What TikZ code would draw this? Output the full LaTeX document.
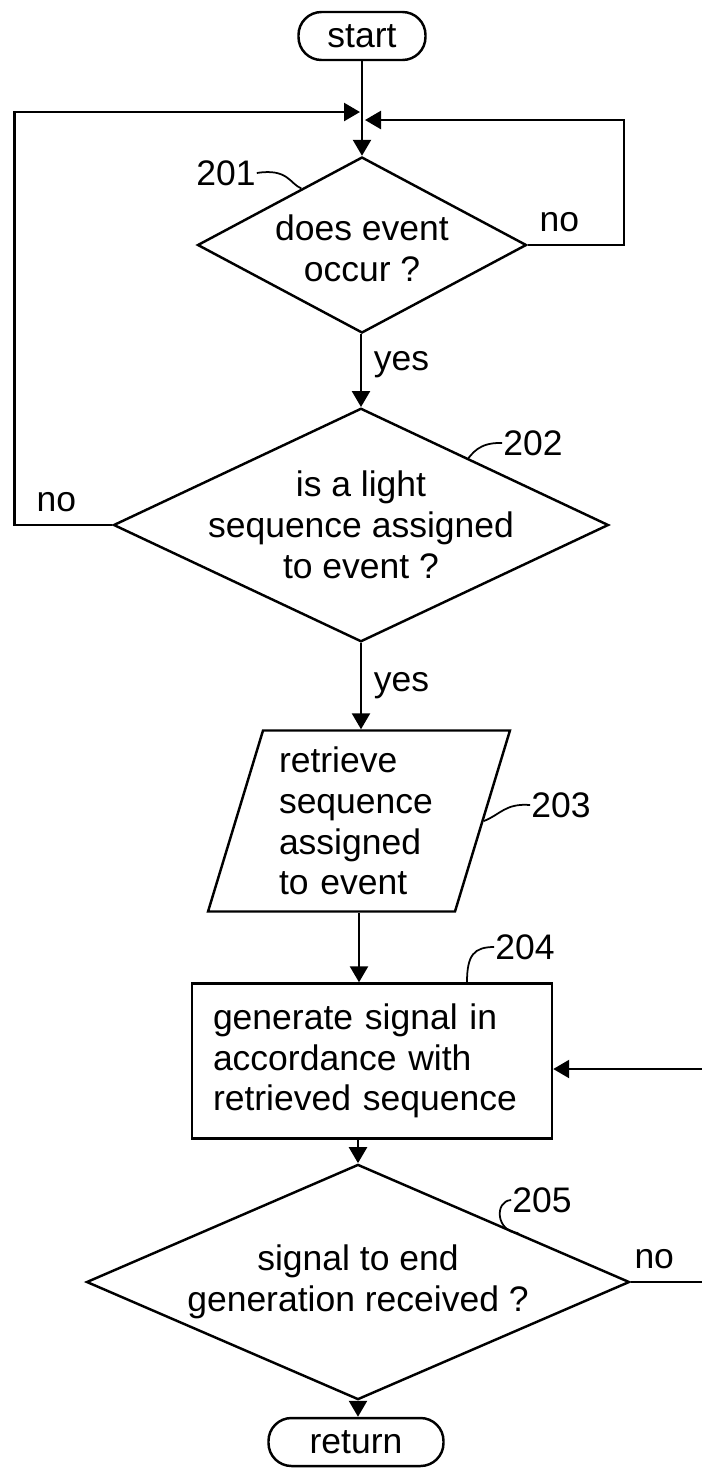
\documentclass[tikz,border=0pt]{standalone}
\usepackage{fontspec}
\setmainfont{Liberation Sans}
\usetikzlibrary{shapes.geometric,positioning,arrows.meta}

\tikzset{
  txt/.style={font=\fontsize{10.1}{11.6}\selectfont},
  terminal/.style={txt,draw,rounded corners=2.3mm,minimum height=4.8mm,inner sep=0pt},
  decision/.style={txt,draw,diamond,align=center,inner xsep=-5mm,inner ysep=-4mm},
  io/.style={txt,draw,trapezium,trapezium left angle=73,trapezium right angle=107,
    trapezium stretches=true,align=left},
  process/.style={txt,draw,align=left,inner xsep=2.1mm},
  reflabel/.style={txt,inner sep=0pt},
  lbl/.style={txt},
}

\begin{document}
\begin{tikzpicture}[x=0.1mm,y=-0.1mm,line width=0.7pt,>={Triangle[length=1.6mm,width=1.8mm]}]
\useasboundingbox (0,0) rectangle (702,1470);
% boxes
\node[terminal,minimum width=12.7mm] (start) at (362,36) {start};
\node[decision,minimum width=32.9mm,minimum height=17.6mm] (d201) at (362,245) {\raisebox{-1.7mm}[0pt][0pt]{\begin{tabular}{@{}c@{}}does event\\occur ?\end{tabular}}};
\node[decision,minimum width=49.5mm,minimum height=19.4mm] (d202) at (361,525) {is a light\\sequence assigned\\to event ?};
\node[io,text width=16mm,minimum width=30.4mm,minimum height=18.1mm] (p203) at (359,821) {retrieve\\sequence\\assigned\\to event};
\node[process,text width=31.8mm,minimum height=15.5mm] (b204) at (372,1061) {generate signal in\\accordance with\\retrieved sequence};
\node[decision,minimum width=54.3mm,minimum height=14.6mm] (d205) at (358,1282) {signal to end\\generation received ?};
\node[terminal,minimum width=17.5mm] (ret) at (356,1442) {return};
% reference numbers
\node[reflabel] (r201) at (226,173) {201};
\node[reflabel] (r202) at (533,443) {202};
\node[reflabel] (r203) at (561,805) {203};
\node[reflabel] (r204) at (525,947) {204};
\node[reflabel] (r205) at (542,1200) {205};
\draw[line width=0.5pt] (r201.east) .. controls (288,168) and (290,184) .. (d201.137);
\draw[line width=0.5pt] (d202.32) .. controls (472,455) and (478,442) .. (r202.west);
\draw[line width=0.5pt] (p203.east) .. controls (500,815) and (505,803) .. (r203.west);
\draw[line width=0.5pt] ([xshift=9.5mm]b204.north) .. controls (467,955) and (474,947) .. (r204.west);
\draw[line width=0.5pt] (d205.17) .. controls (496,1232) and (494,1201) .. (r205.west);
% junction above 201
\coordinate (jl) at (360,112);
\coordinate (jr) at (365,120);
\coordinate (outA) at (702,1282);
\coordinate (outB) at (702,1069);
% flow
\draw[->] (start) -- (d201);
\draw[->] (d201.east) -- node[lbl,above,pos=0.33] {no} ++(96,0) |- (jr);
\draw[->] (d201.south -| d202.north) -- node[lbl,anchor=west,pos=0.42] {yes} (d202.north);
\draw[->] (d202.west) -- node[lbl,above,pos=0.57] {no} ++(-98,0) |- (jl);
\draw[->] (d202.south) -- node[lbl,anchor=west,pos=0.49] {yes} (d202.south |- p203.north);
\draw[->] (p203.south) -- (p203.south |- b204.north);
\draw[->] (b204.south -| d205.north) -- (d205.north);
\draw[->] (d205.south) -- (d205.south |- ret.north);
\draw (d205.east) -- node[lbl,above,pos=0.33] {no} (outA);
\draw[->] (outB) -- (outB -| b204.east);
\end{tikzpicture}
\end{document}
